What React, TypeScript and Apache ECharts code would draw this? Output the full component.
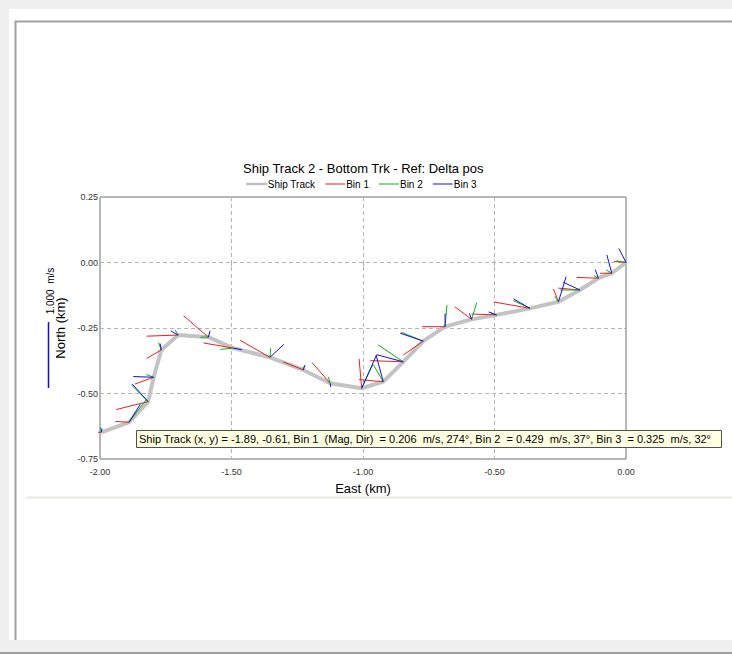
import React, { useEffect, useRef } from 'react';
import * as echarts from 'echarts';

// Ship track ensemble positions (km)
const trackX = [-1.995, -1.89, -1.817, -1.796, -1.767, -1.703, -1.588, -1.493, -1.354, -1.227, -1.125, -1.005, -0.923, -0.847, -0.771, -0.688, -0.587, -0.492, -0.365, -0.257, -0.175, -0.105, -0.054, 0.0];
const trackY = [-0.648, -0.61, -0.531, -0.438, -0.334, -0.277, -0.285, -0.327, -0.362, -0.41, -0.461, -0.48, -0.455, -0.379, -0.3, -0.245, -0.217, -0.2, -0.175, -0.15, -0.105, -0.06, -0.041, 0.0];

// Water velocity per bin: magnitude (m/s) and direction (deg from north)
const bin1Mag = [0.05, 0.206, 0.5, 0.3, 0.26, 0.48, 0.5, 0.46, 0.52, 0.33, 0.42, 0.45, 0.37, 0.5, 0.37, 0.35, 0.32, 0.38, 0.56, 0.21, 0.33, 0.33, 0.18, 0.18];
const bin1Dir = [270, 274, 256, 250, 240, 268, 311, 280, 300, 292, 319, 355, 275, 272, 235, 270, 307, 272, 280, 339, 275, 272, 270, 275];
const bin2Mag = [0.08, 0.429, 0.36, 0.12, 0.12, 0.09, 0.12, 0.2, 0.14, 0.05, 0.1, 0.4, 0.3, 0.46, 0.36, 0.33, 0.27, 0.1, 0.28, 0.1, 0.3, 0.08, 0.1, 0.15];
const bin2Dir = [350, 37, 315, 290, 340, 330, 270, 265, 5, 0, 345, 25, 330, 304, 292, 5, 17, 290, 295, 330, 270, 300, 300, 280];
const bin3Mag = [0.06, 0.325, 0.36, 0.31, 0.1, 0.13, 0.1, 0.13, 0.29, 0.08, 0.06, 0.55, 0.42, 0.42, 0.37, 0.2, 0.1, 0.13, 0.29, 0.4, 0.28, 0.14, 0.29, 0.24];
const bin3Dir = [10, 32, 318, 272, 350, 300, 15, 100, 47, 20, 170, 24, 345, 285, 289, 0, 340, 290, 300, 17, 295, 340, 345, 333];

const xTicks = [-2, -1.5, -1, -0.5, 0];
const yTicks = [-0.75, -0.5, -0.25, 0, 0.25];

const KM_PER_MS = 0.25; // vector scale: 1.000 m/s

const readout =
  'Ship Track (x, y) = -1.89, -0.61, Bin 1  (Mag, Dir)  = 0.206  m/s, 274°, Bin 2  = 0.429  m/s, 37°, Bin 3  = 0.325  m/s, 32°';

function vectors(mag: number[], dir: number[]) {
  return trackX.map((x, i) => {
    const y = trackY[i];
    const a = (dir[i] * Math.PI) / 180;
    return [x, y, x + mag[i] * KM_PER_MS * Math.sin(a), y + mag[i] * KM_PER_MS * Math.cos(a)];
  });
}

function vecSeries(name: string, color: string, mag: number[], dir: number[]) {
  return {
    name,
    type: 'custom',
    itemStyle: { color },
    encode: { x: [0, 2], y: [1, 3] },
    data: vectors(mag, dir),
    z: 5,
    renderItem: (params: any, api: any) => {
      const p0 = api.coord([api.value(0), api.value(1)]);
      const p1 = api.coord([api.value(2), api.value(3)]);
      return {
        type: 'line',
        shape: { x1: p0[0], y1: p0[1], x2: p1[0], y2: p1[1] },
        style: { stroke: color, lineWidth: 1 },
      };
    },
  };
}

export default function App() {
  const ref = useRef<HTMLDivElement>(null);
  useEffect(() => {
    if (!ref.current) return;
    const chart = echarts.init(ref.current, undefined, { renderer: 'svg' });
    const font = 'Liberation Sans, Arial, sans-serif';
    chart.setOption({
      animation: false,
      backgroundColor: '#f0f0f0',
      textStyle: { fontFamily: font },
      title: {
        text: 'Ship Track 2 - Bottom Trk - Ref: Delta pos',
        left: 243,
        top: 162,
        padding: 0,
        textStyle: { fontSize: 13, fontWeight: 'normal', color: '#000', fontFamily: font },
      },
      legend: {
        top: 179,
        left: 246,
        padding: 0,
        itemWidth: 20,
        itemHeight: 1,
        itemGap: 10,
        icon: 'rect',
        textStyle: { fontSize: 10, color: '#000', fontFamily: font, padding: [0, 0, 0, -4] },
        data: [
          { name: 'Ship Track', itemStyle: { color: '#c0c0c0', borderColor: '#c0c0c0', borderWidth: 1.5 } },
          { name: 'Bin 1' },
          { name: 'Bin 2' },
          { name: 'Bin 3' },
        ],
      },
      grid: {
        left: 100,
        top: 197,
        width: 526,
        height: 262,
        show: true,
        backgroundColor: '#fff',
        borderColor: '#707070',
        borderWidth: 1,
      },
      xAxis: {
        type: 'value',
        min: xTicks[0],
        max: xTicks[xTicks.length - 1],
        interval: 0.5,
        name: 'East (km)',
        nameLocation: 'middle',
        nameGap: 23,
        nameTextStyle: { fontSize: 13, color: '#000', fontFamily: font },
        axisLine: { show: false },
        axisTick: { show: true, length: 4, lineStyle: { color: '#b0b0b0' } },
        axisLabel: { fontSize: 9, color: '#333', margin: 8, formatter: (v: number) => v.toFixed(2) },
        splitLine: { show: true, lineStyle: { color: '#b4b4b4', type: [4, 3], width: 1 } },
      },
      yAxis: {
        type: 'value',
        min: yTicks[0],
        max: yTicks[yTicks.length - 1],
        interval: 0.25,
        name: 'North (km)',
        nameLocation: 'middle',
        nameGap: 32,
        nameTextStyle: { fontSize: 13, color: '#000', fontFamily: font },
        axisLine: { show: false },
        axisTick: { show: true, length: 2, lineStyle: { color: '#b0b0b0' } },
        axisLabel: { fontSize: 9, color: '#333', margin: 2, formatter: (v: number) => v.toFixed(2) },
        splitLine: { show: true, lineStyle: { color: '#b4b4b4', type: [4, 3], width: 1 } },
      },
      series: [
        {
          name: 'Ship Track',
          type: 'line',
          data: trackX.map((x, i) => [x, trackY[i]]),
          showSymbol: false,
          symbol: 'none',
          lineStyle: { color: '#c3c3c3', width: 4 },
          itemStyle: { color: '#c0c0c0' },
          z: 2,
        },
        vecSeries('Bin 1', '#e82020', bin1Mag, bin1Dir),
        vecSeries('Bin 2', '#10b010', bin2Mag, bin2Dir),
        vecSeries('Bin 3', '#1010e0', bin3Mag, bin3Dir),
      ],
      graphic: [
        { type: 'rect', z: -100, shape: { x: 9, y: 9, width: 723, height: 631 }, style: { fill: '#fff' }, silent: true },
        { type: 'polyline', z: -99, shape: { points: [[15.5, 640], [15.5, 21.5], [732, 21.5]] }, style: { stroke: '#a0a0a0', lineWidth: 2, fill: null }, silent: true },
        { type: 'line', z: -99, shape: { x1: 26, y1: 497.5, x2: 732, y2: 497.5 }, style: { stroke: '#e8ebdc', lineWidth: 2 }, silent: true },
        { type: 'line', z: -99, shape: { x1: 0, y1: 653, x2: 732, y2: 653 }, style: { stroke: '#a0a0a0', lineWidth: 2 }, silent: true },
        { type: 'line', z: 10, shape: { x1: 48.5, y1: 322, x2: 48.5, y2: 388 }, style: { stroke: '#1010d0', lineWidth: 1.5 } },
        {
          type: 'text', z: 10, x: 50, y: 291, rotation: Math.PI / 2,
          style: { text: '1.000  m/s', fontSize: 10, fill: '#000', align: 'center', verticalAlign: 'middle', fontFamily: font },
        },
        { type: 'rect', z: 100, shape: { x: 136.5, y: 430.5, width: 585, height: 17 }, style: { fill: '#ffffe1', stroke: '#505050', lineWidth: 1 } },
        {
          type: 'text', z: 101, x: 139, y: 439,
          style: { text: readout, fontSize: 11, fill: '#000', align: 'left', verticalAlign: 'middle', fontFamily: font },
        },
      ],
    });
    return () => chart.dispose();
  }, []);
  return <div ref={ref} style={{ position: 'fixed', left: 0, top: 0, width: 732, height: 654 }} />;
}
